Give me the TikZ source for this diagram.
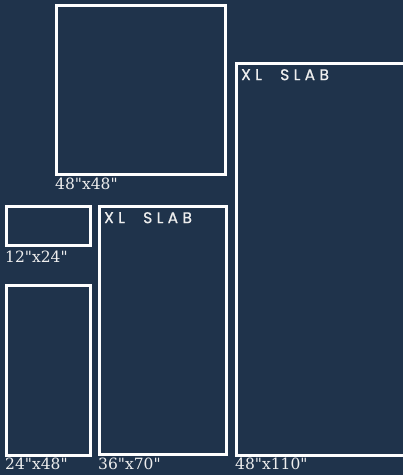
\documentclass[tikz,border=0pt]{standalone}
\usepackage{fontspec}
\newfontfamily\dimfont{DejaVu Serif}
\newfontfamily\slabfont[LetterSpace=28,FakeBold=0.8]{Poppins}
\definecolor{bg}{HTML}{1F334B}
\definecolor{ink}{HTML}{EEEEEE}
\begin{document}
\begin{tikzpicture}[x=1pt,y=-1pt,
  slabbox/.style={draw=white, line width=2.6pt, anchor=north west, inner sep=0pt, outer sep=0pt},
  dimlabel/.style={anchor=north west, inner sep=0pt, text=ink, font=\dimfont\fontsize{15.5}{16}\selectfont},
  tag/.style={anchor=north west, inner sep=0pt, text=ink, font=\slabfont\fontsize{15.5}{16}\selectfont}]
\fill[bg] (0,0) rectangle (403,475);
\useasboundingbox (0,0) rectangle (403,475);
% boxes
\node[slabbox, minimum width=169pt, minimum height=169pt] (a) at (56.3,5.3) {};
\node[slabbox, minimum width=84pt, minimum height=39pt] (b) at (6.3,206.3) {};
\node[slabbox, minimum width=127pt, minimum height=248pt] (c) at (99.3,206.3) {};
\node[slabbox, minimum width=84pt, minimum height=170pt] (d) at (6.3,285.3) {};
\node[slabbox, minimum width=180pt, minimum height=392pt] (e) at (236.3,63.3) {};
% labels
\node[dimlabel] (la) at (55,178) {48"x48"};
\node[dimlabel] (lb) at (5,251) {12"x24"};
\node[dimlabel] (ld) at (5,458) {24"x48"};
\node[dimlabel] (lc) at (98,458) {36"x70"};
\node[dimlabel] (le) at (235,458) {48"x110"};
\node[tag] (tcx) at (104,212) {XL};
\node[tag] (tcs) at (143,212) {SLAB};
\node[tag] (tex) at (241,69) {XL};
\node[tag] (tes) at (280,69) {SLAB};
\end{tikzpicture}
\end{document}
